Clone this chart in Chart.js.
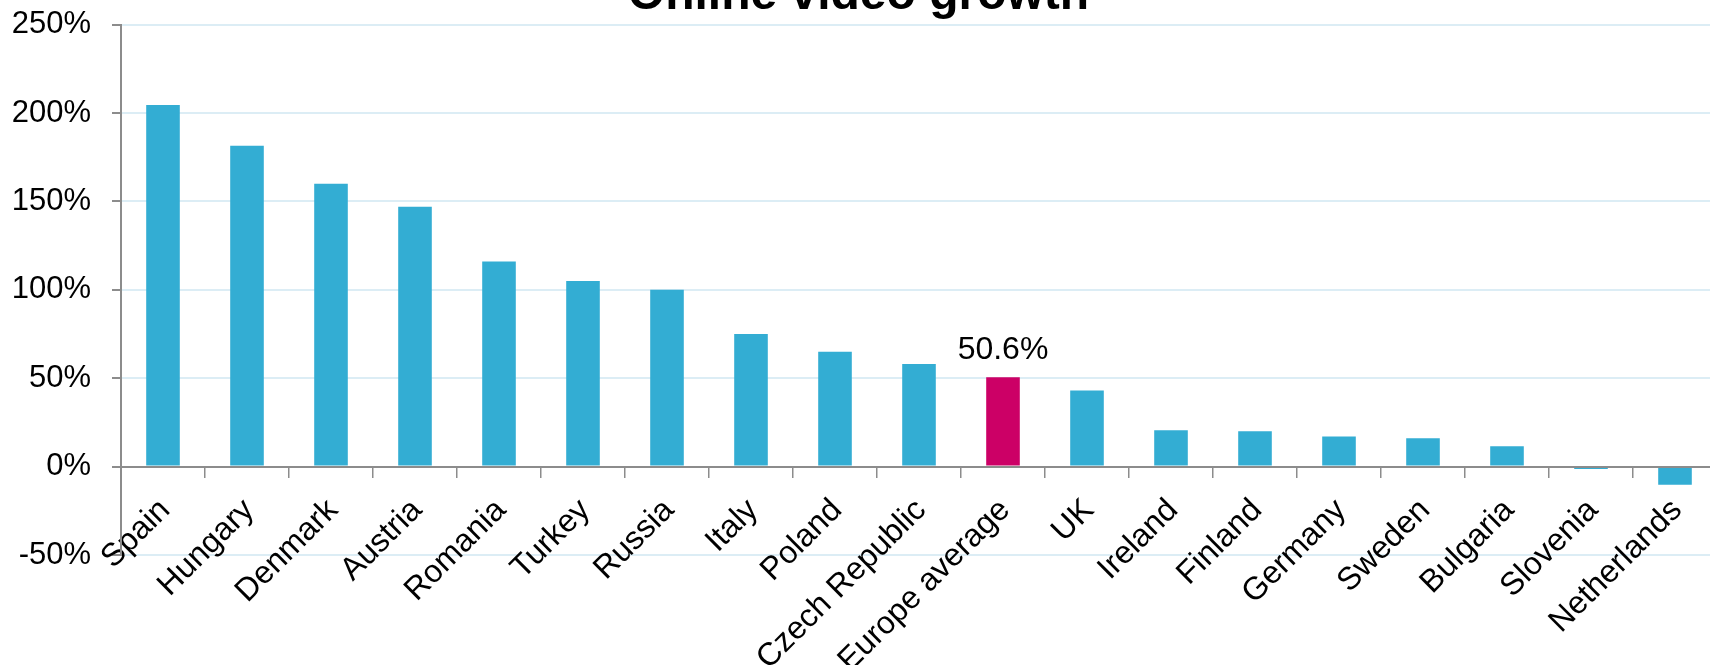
<!DOCTYPE html>
<html><head><meta charset="utf-8">
<script src="https://cdn.jsdelivr.net/npm/chart.js@4/dist/chart.umd.min.js"></script>
<style>
html,body{margin:0;padding:0;background:#fff;overflow:hidden;width:1710px;height:665px;position:relative;}
#wrap{position:absolute;left:0;top:-40px;width:1720px;height:705px;}
</style></head><body>
<div id="wrap"><canvas id="c" width="1720" height="705"></canvas></div>
<script>
const categories = ['Spain','Hungary','Denmark','Austria','Romania','Turkey','Russia','Italy','Poland','Czech Republic','Europe average','UK','Ireland','Finland','Germany','Sweden','Bulgaria','Slovenia','Netherlands'];
const growthValues = [204.5, 181.5, 160, 147, 116, 105, 100, 75, 65, 58, 50.6, 43, 20.5, 20, 17, 16, 11.5, -1.3, -10.3];
const highlightCategory = 'Europe average';
const yMin = -50, yMax = 250, yStep = 50;
const chartTitle = 'Online video growth';

const BLUE = '#33add3', MAGENTA = '#cc0066', GRID = '#dcedf5', AXIS = '#8c8c8c';
const FONT = '"Liberation Sans", Arial, sans-serif';

const barColors = categories.map(c => c === highlightCategory ? MAGENTA : BLUE);

const valueLabelPlugin = {
  id: 'valueLabel',
  afterDatasetsDraw(chart) {
    const i = categories.indexOf(highlightCategory);
    const bar = chart.getDatasetMeta(0).data[i];
    const ctx = chart.ctx;
    ctx.save();
    ctx.font = '32px ' + FONT;
    ctx.fillStyle = '#000';
    ctx.textAlign = 'center';
    ctx.textBaseline = 'alphabetic';
    ctx.fillText(growthValues[i].toFixed(1) + '%', bar.x, bar.y - 18);
    ctx.restore();
  }
};

new Chart(document.getElementById('c'), {
  type: 'bar',
  data: {
    labels: categories,
    datasets: [{ data: growthValues, backgroundColor: barColors, borderWidth: 0, barPercentage: 0.4, categoryPercentage: 1 }]
  },
  options: {
    responsive: false,
    devicePixelRatio: 1,
    animation: false,
    layout: { padding: { left: 0, right: 3, top: 0, bottom: 110 } },
    plugins: {
      legend: { display: false },
      tooltip: { enabled: false },
      title: {
        display: true, text: chartTitle, color: '#000',
        font: { family: FONT, size: 48, weight: 'bold' },
        padding: { top: 7, bottom: 0 }
      }
    },
    scales: {
      x: {
        position: { y: 0 },
        grid: { offset: true, drawOnChartArea: false, drawTicks: true, tickLength: 10, color: AXIS, tickColor: AXIS, lineWidth: 1.5 },
        border: { display: true, color: AXIS, width: 2, z: 1 },
        ticks: { autoSkip: false, maxRotation: 45, minRotation: 45, padding: 15, labelOffset: 2, color: '#000', font: { family: FONT, size: 32 } },
        afterFit(axis) { axis.paddingLeft = 0; axis.paddingRight = 0; }
      },
      y: {
        min: yMin, max: yMax,
        grid: { color: GRID, lineWidth: 2, tickColor: AXIS, tickLength: 9 },
        border: { display: true, color: AXIS, width: 2 },
        ticks: { stepSize: yStep, padding: 21, color: '#000', font: { family: FONT, size: 31 }, callback: v => v + '%' },
        afterFit(axis) { axis.width = 121; axis.paddingTop = 0; axis.paddingBottom = 0; }
      }
    }
  },
  plugins: [valueLabelPlugin]
});
</script>
</body></html>
